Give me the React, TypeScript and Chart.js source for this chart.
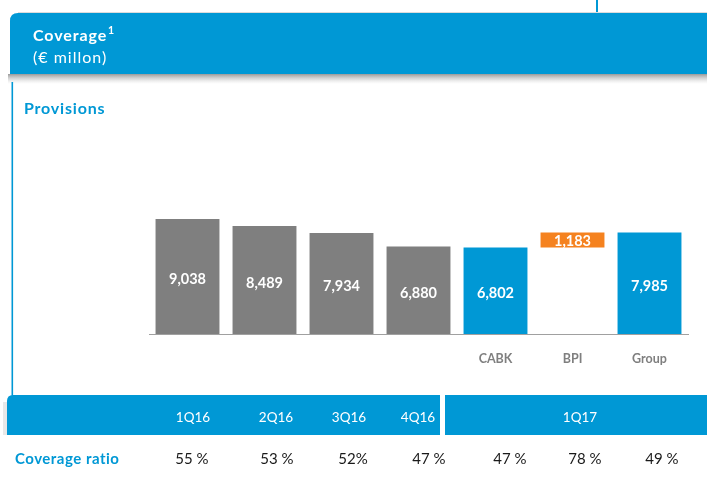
import React, { useEffect, useRef } from "react";
import { Chart, registerables } from "chart.js";

Chart.register(...registerables);

// ---- data ----
const categories = ["1Q16", "2Q16", "3Q16", "4Q16", "CABK", "BPI", "Group"];
const axisLabels = ["", "", "", "", "CABK", "BPI", "Group"];
const provisions = [9038, 8489, 7934, 6880, 6802, 1183, 7985];
const periodLabel = "1Q17";
const coverageLabels = ["55 %", "53 %", "52%", "47 %", "47 %", "78 %", "49 %"];

// ---- styles / layout ----
const BLUE = "#0098D5";
const GRAY = "#7F7F7F";
const ORANGE = "#F5821F";
const FONT = "Lato, 'Open Sans', sans-serif";
const headerCols = [193, 276, 349, 418];
const periodX = 580;
const ratioCols = [192, 277, 353, 429, 510, 585, 662];

const barColors = ["gray", "gray", "gray", "gray", "blue", "orange", "blue"].map((c) =>
  c === "gray" ? GRAY : c === "blue" ? BLUE : ORANGE
);

function fmt(n: number) {
  return n.toLocaleString("en-US");
}

function roundTopLeftRect(ctx: CanvasRenderingContext2D, x: number, y: number, w: number, h: number, r: number) {
  ctx.beginPath();
  ctx.moveTo(x, y + h);
  ctx.lineTo(x, y + r);
  ctx.quadraticCurveTo(x, y, x + r, y);
  ctx.lineTo(x + w, y);
  ctx.lineTo(x + w, y + h);
  ctx.closePath();
}

function spaced(ctx: any, px: number) {
  try {
    ctx.letterSpacing = `${px}px`;
  } catch (e) {}
}

const decorPlugin = {
  id: "decor",
  beforeDraw(chart: any) {
    const ctx: CanvasRenderingContext2D = chart.ctx;
    ctx.save();
    ctx.fillStyle = "#ffffff";
    ctx.fillRect(0, 0, chart.width, chart.height);

    // top small vertical line
    ctx.fillStyle = BLUE;
    ctx.fillRect(596, 0, 2, 13);

    // header shadow
    const g = ctx.createLinearGradient(0, 74, 0, 84);
    g.addColorStop(0, "rgba(120,120,120,0.75)");
    g.addColorStop(1, "rgba(200,200,200,0)");
    ctx.fillStyle = g;
    ctx.fillRect(8, 74, chart.width - 8, 10);

    // header band
    ctx.fillStyle = "#dcdcdc";
    ctx.fillRect(18, 12, chart.width, 1);
    ctx.fillStyle = BLUE;
    roundTopLeftRect(ctx, 10, 13, chart.width, 61, 8);
    ctx.fill();

    // left vertical line
    ctx.fillStyle = BLUE;
    ctx.fillRect(11.5, 82, 1.6, 314);

    // header text
    ctx.fillStyle = "#ffffff";
    ctx.textBaseline = "alphabetic";
    ctx.textAlign = "left";
    spaced(ctx, 0.9);
    ctx.font = `bold 16px ${FONT}`;
    ctx.fillText("Coverage", 33, 41);
    const w = ctx.measureText("Coverage").width;
    ctx.font = `bold 10.5px ${FONT}`;
    spaced(ctx, 0);
    ctx.fillText("1", 33 + w + 1, 34);
    spaced(ctx, 1);
    ctx.font = `16px ${FONT}`;
    ctx.fillText("(€ millon)", 33, 63);

    // Provisions
    ctx.fillStyle = BLUE;
    spaced(ctx, 0.8);
    ctx.font = `bold 16px ${FONT}`;
    ctx.fillText("Provisions", 24, 114);
    spaced(ctx, 0);

    // bottom band
    ctx.fillStyle = "#e8e8e8";
    ctx.fillRect(3, 402, 4, 33);
    ctx.fillStyle = BLUE;
    roundTopLeftRect(ctx, 7, 395, 440 - 7, 40, 6);
    ctx.fill();
    ctx.fillRect(445, 395, chart.width - 445, 40);

    ctx.fillStyle = "#ffffff";
    ctx.font = `13.5px ${FONT}`;
    ctx.textAlign = "center";
    ctx.textBaseline = "middle";
    categories.slice(0, 4).forEach((c, i) => ctx.fillText(c, headerCols[i], 418));
    ctx.fillText(periodLabel, periodX, 418);

    // coverage ratio row
    ctx.textAlign = "left";
    ctx.fillStyle = BLUE;
    spaced(ctx, 0.5);
    ctx.font = `bold 15px ${FONT}`;
    ctx.fillText("Coverage ratio", 15, 459);
    spaced(ctx, 0);
    ctx.textAlign = "center";
    ctx.fillStyle = "#1a1a1a";
    ctx.font = `15px ${FONT}`;
    coverageLabels.forEach((t, i) => ctx.fillText(t, ratioCols[i], 459));
    ctx.restore();
  },
  afterDatasetsDraw(chart: any) {
    const ctx: CanvasRenderingContext2D = chart.ctx;
    const meta = chart.getDatasetMeta(0);
    ctx.save();
    ctx.fillStyle = "#ffffff";
    ctx.textAlign = "center";
    ctx.textBaseline = "middle";
    ctx.font = `bold 14.5px ${FONT}`;
    meta.data.forEach((bar: any, i: number) => {
      const top = Math.min(bar.y, bar.base);
      const bottom = Math.max(bar.y, bar.base);
      const h = bottom - top;
      const y = h > 30 ? (top + bottom) / 2 + 3 : (top + bottom) / 2 + 1;
      ctx.fillText(fmt(provisions[i]), bar.x, y);
    });
    ctx.restore();
  },
};

export default function App() {
  const ref = useRef<HTMLCanvasElement | null>(null);
  useEffect(() => {
    if (!ref.current) return;
    const cabkIdx = categories.indexOf("CABK");
    const bpiIdx = categories.indexOf("BPI");
    const data = provisions.map((v, i) =>
      i === bpiIdx ? [provisions[cabkIdx], provisions[cabkIdx] + v] : v
    );
    const chart = new Chart(ref.current, {
      type: "bar",
      data: {
        labels: axisLabels,
        datasets: [
          {
            data: data as any,
            backgroundColor: barColors,
            borderWidth: 0,
            barPercentage: 0.83,
            categoryPercentage: 1,
          },
        ],
      },
      options: {
        responsive: false,
        animation: false,
        events: [],
        layout: { padding: { left: 149, right: 19, top: 150, bottom: 105 } },
        plugins: { legend: { display: false }, tooltip: { enabled: false } },
        scales: {
          x: {
            grid: { display: false, drawTicks: false },
            border: { display: true, color: "#A0A0A0", width: 1 },
            ticks: {
              padding: 17,
              color: GRAY,
              font: { family: FONT, size: 12.5, weight: "bold" },
              maxRotation: 0,
              autoSkip: false,
            },
            afterFit: (s: any) => {
              s.height = 40;
            },
          },
          y: { display: false, min: 0, max: 14460 },
        },
      },
      plugins: [decorPlugin],
    });
    return () => chart.destroy();
  }, []);
  return (
    <div style={{ position: "fixed", left: 0, top: 0, width: 707, height: 479 }}>
      <canvas ref={ref} width={707} height={479} style={{ width: 707, height: 479, display: "block" }} />
    </div>
  );
}
